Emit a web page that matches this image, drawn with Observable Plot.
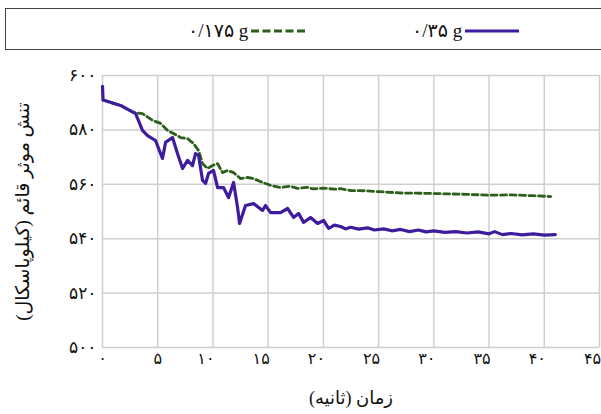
<!DOCTYPE html>
<html><head><meta charset="utf-8">
<script src="https://cdn.jsdelivr.net/npm/d3@7"></script>
<script src="https://cdn.jsdelivr.net/npm/@observablehq/plot@0.6"></script>
<style>
body{margin:0;background:#fff;width:601px;height:414px;overflow:hidden;font-family:"Liberation Serif","DejaVu Sans",serif;}
#legend{position:absolute;left:5px;top:8px;width:620px;height:40px;border:1.5px solid #444;box-sizing:content-box;}
.item{position:absolute;top:10px;font-size:19px;display:flex;align-items:center;gap:3px;color:#111;}
.item svg{display:block}
#chart{position:absolute;left:0;top:58px;}
</style></head><body>
<div id="legend"></div>
<div id="chart"></div>
<script>
const seriesNames = ["۰/۱۷۵ g", "۰/۳۵ g"];
const seriesColors = ["#2b5f1c", "#3f1c9e"];
const xTicks = [0,5,10,15,20,25,30,35,40,45];
const yTicks = [500,520,540,560,580,600];

// 0.35 g (solid purple)
const t35 = [0,0.05,1.63,3.0,3.62,4.08,4.80,5.43,5.71,6.34,6.79,7.25,7.70,8.15,8.42,8.70,9.06,9.33,9.60,10.05,10.42,10.96,11.41,11.87,12.23,12.41,12.95,13.68,14.49,14.76,15.22,16.12,16.76,17.30,17.75,18.21,18.84,19.47,20.02,20.47,21.0,21.56,22.0,22.46,23.2,24.0,24.6,25.45,26.2,27.0,27.8,28.6,29.3,30.0,31.0,32.0,33.0,34.0,35.0,35.5,36.2,37.0,38.0,39.0,40.0,41.0];
const v35 = [596,591,589.0,586.0,579.8,577.9,576.1,569.5,575.4,577.2,571.3,565.8,568.8,566.9,571.3,570.6,561.4,560.3,564.0,565.1,558.8,558.8,555.1,560.7,551.5,545.6,552.2,552.9,550.4,552.2,549.6,549.6,551.1,547.8,549.3,546.0,547.8,545.6,546.7,543.8,545.0,544.5,543.6,544.2,543.5,544.0,543.2,543.6,542.9,543.4,542.6,543.2,542.5,542.9,542.3,542.6,542.1,542.5,541.8,542.6,541.5,541.9,541.4,541.8,541.3,541.5];

// 0.175 g (dashed green)
const t175 = [0.05,1.63,2.81,3.62,4.53,5.25,5.89,6.43,7.07,7.70,8.24,8.70,9.06,9.51,9.96,10.42,10.87,11.32,11.87,12.50,13.13,13.68,14.49,15.22,16.12,17.0,17.66,18.5,19.11,20.0,21.0,21.56,22.46,24.0,25.0,27.0,29.0,31.0,33.06,35.0,37.0,39.0,40.58];
const v175 = [591,589.0,586.4,586.0,583.5,582.4,579.8,578.7,577.2,576.8,575.0,572.4,567.6,565.8,566.9,567.6,564.3,565.1,564.3,562.1,562.5,562.1,560.7,559.6,558.8,559.3,558.5,558.9,558.3,558.6,558.2,558.4,557.7,557.6,557.3,556.8,556.7,556.5,556.3,556.0,556.1,555.8,555.5];

const fa = s => String(s).replace(/\d/g, d => "۰۱۲۳۴۵۶۷۸۹"[d]);

const d35 = t35.map((t,i)=>({t, v:v35[i]}));
const d175 = t175.map((t,i)=>({t, v:v175[i]}));

// legend
const legend = document.getElementById("legend");
const legendPos = [182, 406];
const dashes = ["8,3.5", null];
seriesNames.forEach((name,i)=>{
  const it = document.createElement("div");
  it.className = "item";
  it.style.left = legendPos[i] + "px";
  it.innerHTML = `<span dir="ltr">${name}</span><svg width="54" height="10"><line x1="0" x2="54" y1="5" y2="5" stroke="${seriesColors[i]}" stroke-width="${i?3:2.8}" ${dashes[i]?`stroke-dasharray="${dashes[i]}"`:""}/></svg>`;
  legend.appendChild(it);
});

const plot = Plot.plot({
  width: 601,
  height: 356,
  marginLeft: 102,
  marginRight: 2,
  marginTop: 17,
  marginBottom: 67,
  style: {fontFamily: '"Liberation Serif","DejaVu Sans",serif', fontSize: "14px", color: "#111", background: "#fff", overflow: "visible"},
  x: {domain: [0,45], ticks: xTicks, tickFormat: fa, label: null},
  y: {domain: [500,600], ticks: yTicks, tickFormat: fa, label: null},
  marks: [
    Plot.gridX(xTicks, {stroke: "#cfcfcf", strokeOpacity: 1, strokeWidth: 1.5}),
    Plot.gridY(yTicks, {stroke: "#cfcfcf", strokeOpacity: 1, strokeWidth: 1.5}),
    Plot.axisX(xTicks.slice(0,2), {tickFormat: fa, tickSize: 0, tickPadding: 5, fontSize: 16, label: null}),
    Plot.axisX(xTicks.slice(2), {tickFormat: fa, tickSize: 0, tickPadding: 5, fontSize: 16, dx: -7, label: null}),
    Plot.axisY({ticks: yTicks, tickFormat: fa, tickSize: 0, tickPadding: 6, fontSize: 17, label: null}),
    Plot.line(d175, {x: "t", y: "v", stroke: seriesColors[0], strokeWidth: 2.8, strokeDasharray: "6,3.5", curve: "linear"}),
    Plot.line(d35, {x: "t", y: "v", stroke: seriesColors[1], strokeWidth: 3.2, curve: "linear"}),
    Plot.text(["زمان (ثانیه)"], {frameAnchor: "bottom", dy: 56, fontSize: 18, fill: "#111"}),
    Plot.text(["تنش موثر قائم (کیلوپاسکال)"], {frameAnchor: "left", textAnchor: "middle", dx: -80, rotate: -90, fontSize: 19, fill: "#111"})
  ]
});
document.getElementById("chart").appendChild(plot);
</script>
</body></html>
